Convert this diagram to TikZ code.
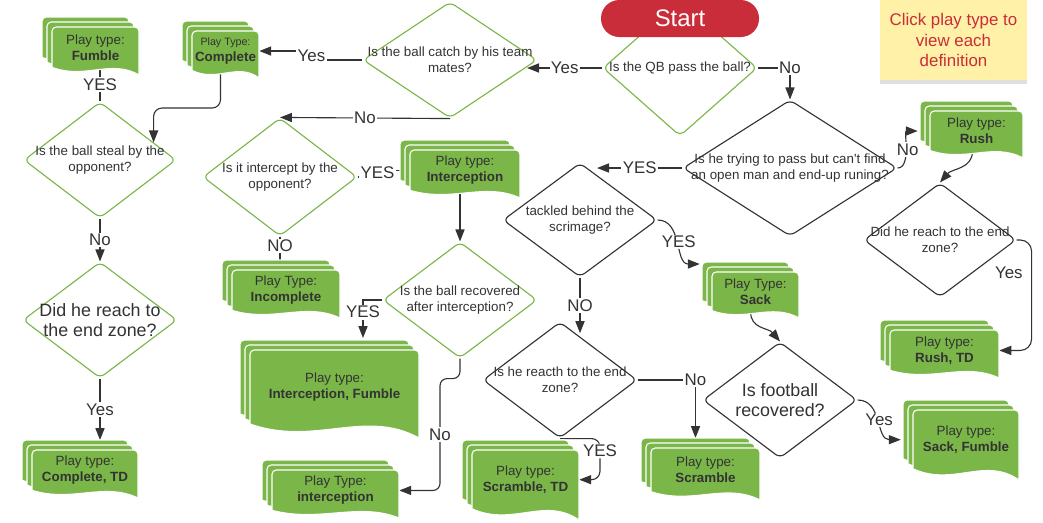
\documentclass[tikz,border=0pt]{standalone}
\usepackage{fontspec}
\setmainfont{Liberation Sans}
\usepackage{tikz}
\usepackage{xcolor}
\usetikzlibrary{positioning, arrows.meta, calc, shapes.geometric, backgrounds, shadows}

\definecolor{docgreen}{HTML}{7AB648}
\definecolor{lineGrey}{HTML}{333333}
\definecolor{startRed}{HTML}{C92D39}
\definecolor{noteYellow}{HTML}{FFF1A8}

% stacked play-type sheet: name, top left of back sheet, width, height, text
\newcommand{\playdoc}[5]{%
  \foreach \lay in {0,5,10}{%
    \begin{scope}[shift={($(#2)+(\lay,\lay)$)}]
      \path[doclayer] (0,0.84*#4) [rounded corners=3pt] -- (0,0) -- (#3,0) -- (#3,0.5*#4)
        [sharp corners] -- (#3,#4)
        .. controls (0.68*#3,0.66*#4) and (0.38*#3,1.1*#4) .. (0,0.84*#4) -- cycle;
    \end{scope}
  }
  \node[doctext, minimum width=#3*0.025cm, minimum height=0.84*#4*0.025cm]
    (#1) at ($(#2)+(10+0.5*#3,10)$) {#5};
}

\begin{document}
\begin{tikzpicture}[
    x=0.025cm, y=-0.025cm,
    % Decision diamonds
    decision/.style={shape=diamond, fill=white, rounded corners=4pt, line width=0.8pt,
        inner sep=0pt, minimum width=154*0.025cm, minimum height=116*0.025cm},
    decgreen/.style={decision, draw=docgreen},
    decblack/.style={decision, draw=lineGrey},
    dectext/.style={align=center, text=lineGrey, inner sep=0pt, font=\fontsize{9.5}{11.4}\selectfont},
    decbig/.style={dectext, font=\fontsize{12.7}{14.2}\selectfont},
    % Play-type sheets
    doclayer/.style={fill=docgreen, draw=white, line width=0.8pt},
    doctext/.style={anchor=north, align=center, inner sep=0pt, text=lineGrey,
        font=\fontsize{9.5}{11.4}\selectfont},
    % Connectors and their labels
    conn/.style={draw=lineGrey, line width=0.8pt},
    arr/.style={conn, -{Triangle[length=8.5pt, width=6.5pt]}},
    lbl/.style={fill=white, inner sep=1pt, text=lineGrey, font=\fontsize{12}{14}\selectfont},
    lblside/.style={inner sep=1pt, text=lineGrey, font=\fontsize{12}{14}\selectfont},
    % Start pill and note
    startnode/.style={fill=startRed, rounded corners=13pt, inner sep=0pt,
        minimum width=158*0.025cm, minimum height=37*0.025cm,
        text=white, font=\fontsize{17}{20}\selectfont},
    notebox/.style={fill=noteYellow, inner sep=0pt, align=center, text=startRed,
        minimum width=147*0.025cm, minimum height=80*0.025cm,
        font=\fontsize{12}{14.6}\selectfont,
        drop shadow={shadow xshift=0pt, shadow yshift=-3pt, opacity=0.25}}
]
\useasboundingbox (0,0) rectangle (1043,522);

% ==========================================
% 1. Questions
% ==========================================
\node[decgreen, minimum height=136*0.025cm,
    label={[dectext]center:Is the QB pass the ball?}] (passQ) at (680,68) {};
\node[decgreen, minimum width=174*0.025cm,
    label={[dectext]center:Is the ball catch by his team\\mates?}] (catchQ) at (450,60) {};
\node[decblack, minimum width=214*0.025cm, minimum height=136*0.025cm,
    label={[dectext]center:Is he trying to pass but can\textquotesingle t find\\an open man and end-up runing?}] (runQ) at (790,168) {};
\node[decblack, minimum height=114*0.025cm,
    label={[dectext]center:tackled behind the\\scrimage?}] (tackleQ) at (580,220) {};
\node[decblack,
    label={[dectext]center:Is he reacth to the end\\zone?}] (scrambleQ) at (560,380) {};
\node[decblack,
    label={[decbig]center:Is football\\recovered?}] (recoverQ) at (780,400) {};
\node[decblack, minimum width=152*0.025cm, minimum height=114*0.025cm,
    label={[dectext]center:Did he reach to the end\\zone?}] (rushTdQ) at (940,240) {};
\node[decgreen, minimum height=118*0.025cm,
    label={[dectext]center:Is it intercept by the\\opponent?}] (interceptQ) at (280,177) {};
\node[decgreen,
    label={[dectext]center:Is the ball recovered\\after interception?}] (interRecQ) at (460,300) {};
\node[decgreen, minimum width=152*0.025cm,
    label={[dectext]center:Is the ball steal by the\\opponent?}] (stealQ) at (100,160) {};
\node[decgreen,
    label={[decbig]center:Did he reach to\\the end zone?}] (passTdQ) at (100,320) {};

% 2. Start and the note
\node[startnode] (start) at (680,18.5) {Start};
\node[notebox] (note) at (953.5,40) {Click play type to\\view each\\definition};

% ==========================================
% 3. Play types
% ==========================================
\playdoc{fumble}{42,17}{87}{48}{Play type:\\\textbf{Fumble}}
\playdoc{complete}{182,21}{67}{47}{{\fontsize{7.6}{9}\selectfont Play Type:}\\\textbf{Complete}}
\playdoc{interception}{400,140}{110}{48}{Play type:\\\textbf{Interception}}
\playdoc{incomplete}{222,260}{108}{48}{Play Type:\\\textbf{Incomplete}}
\playdoc{intFumble}{240,340}{169}{88}{Play type:\\\textbf{Interception, Fumble}}
\playdoc{interception2}{262,460}{127}{48}{Play Type:\\\textbf{interception}}
\playdoc{completeTd}{22,440}{106}{48}{Play type:\\\textbf{Complete, TD}}
\playdoc{scrambleTd}{462,440}{107}{70}{Play type:\\\textbf{Scramble, TD}}
\playdoc{sack}{702,262}{87}{46}{Play Type:\\\textbf{Sack}}
\playdoc{scramble}{641,438}{109}{52}{Play type:\\\textbf{Scramble}}
\playdoc{sackFumble}{903,400}{106}{70}{Play type:\\\textbf{Sack, Fumble}}
\playdoc{rush}{920,101}{93}{47}{Play type:\\\textbf{Rush}}
\playdoc{rushTd}{880,320}{109}{48}{Play type:\\\textbf{Rush, TD}}

% points on the diamond edges where side arrows land
\coordinate (catchIn) at ($(catchQ.east)!0.12!(catchQ.south)$);
\coordinate (tackleIn) at ($(tackleQ.north)!0.22!(tackleQ.east)$);
\coordinate (scrambleIn) at ($(scrambleQ.north)!0.2!(scrambleQ.east)$);
\coordinate (stealIn) at ($(stealQ.north)!0.7!(stealQ.east)$);

% ==========================================
% 4. Connectors
% ==========================================
\begin{scope}[on background layer]
    % QB pass
    \draw[arr] (passQ.west) -- node[lbl]{Yes} (passQ.west -| catchIn);
    \draw[arr] (passQ.east) -| node[lbl]{No} (runQ.north);
    % catch
    \draw[arr] (catchQ.west) -- ++(-51,0) |- node[lbl, pos=0.25]{Yes} (complete.east);
    \draw[arr] (catchQ.south) -- node[lbl]{No} (interceptQ.north);
    % intercept
    \draw[conn] (interceptQ.east) -- ++(20,0) node[lbl, yshift=3pt]{YES} |- ($(interception.west)+(-10,0)$);
    \draw[conn] (interceptQ.south) -- node[lbl, pos=0.4]{NO} ($(incomplete.north)+(-6,-10)$);
    \draw[arr] ($(interception.south)+(-5,0)$) -- (interRecQ.north);
    \draw[arr] (interRecQ.west) -| node[lbl, pos=0.66]{YES} ($(intFumble.north)+(28.5,-12)$);
    \draw[arr, rounded corners=5pt] (interRecQ.south) -- ++(0,20) -- ++(-20,0)
        |- node[lbl, pos=0.25]{No} (interception2.east);
    % steal and touchdown
    \draw[arr, rounded corners=6pt] ($(complete.south)+(-5,0)$) -- ++(0,37) -| (stealIn);
    \draw[conn] (stealQ.north) -- node[lbl]{YES} (stealQ.north |- fumble.south);
    \draw[arr] (stealQ.south) -- node[lbl]{No} (passTdQ.north);
    \draw[arr] (passTdQ.south) -- node[lbl]{Yes} ($(completeTd.north)+(15,-10)$);
    % running
    \draw[arr] (runQ.west) -- node[lbl]{YES} (tackleIn |- runQ.west);
    \draw[arr] (runQ.east) .. controls +(14,0) and +(-14,0) .. node[lbl]{No} ($(rush.west)+(-12,0)$);
    \draw[arr] ($(rush.south)+(-4,0)$) .. controls +(0,18) and +(12,-14) .. (rushTdQ.north);
    \draw[arr, rounded corners=8pt] (rushTdQ.east) -- ++(15,0)
        |- node[lblside, pos=0.15, left=5pt]{Yes} (rushTd.east);
    % tackled
    \draw[arr] (tackleQ.east) .. controls +(25,0) and +(-25,0) .. node[lbl]{YES} ($(sack.north west)+(-12,-8)$);
    \draw[arr] (tackleQ.south) -- node[lbl]{NO} (tackleQ.south |- scrambleIn);
    \draw[arr] ($(sack.south)+(-5,0)$) .. controls +(0,18) and +(-12,-14) .. (recoverQ.north);
    \draw[arr] (recoverQ.east) .. controls +(25,0) and +(-25,0) .. node[lbl]{Yes} ($(sackFumble.west)+(-12,0)$);
    % scramble
    \draw[arr] (scrambleQ.east) -| node[lbl]{No} ($(scramble.north)+(-10,-10)$);
    \draw[arr, rounded corners=6pt] (scrambleQ.south) -- ++(40,0)
        |- node[lbl, pos=0.15]{YES} (scrambleTd.east);
\end{scope}

\end{tikzpicture}
\end{document}
